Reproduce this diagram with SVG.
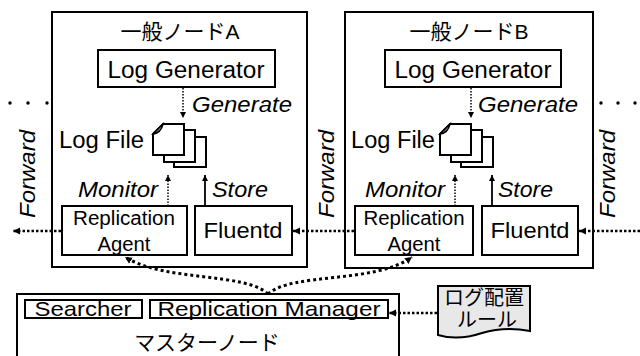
<svg xmlns="http://www.w3.org/2000/svg" width="640" height="356" viewBox="0 0 640 356">
<style>
text{font-family:"Liberation Sans","Noto Sans CJK JP",Arial,sans-serif;fill:#000}
.box{fill:#fff;stroke:#000;stroke-width:2}
.node{fill:none;stroke:#000;stroke-width:2}
.ja{font-size:21px}
.it{font-style:italic;font-size:22px}
.lbl{font-size:22px;text-anchor:middle}
.sm{font-size:20px;text-anchor:middle}
.dot{fill:none;stroke:#000;stroke-width:2.5;stroke-dasharray:2.5 2}
.thin{fill:none;stroke:#000;stroke-width:1.5;stroke-dasharray:1.5 1.5}
.curve{fill:none;stroke:#000;stroke-width:3;stroke-dasharray:3 3}
.solid{fill:none;stroke:#000;stroke-width:1.8}
.page{fill:#fff;stroke:#000;stroke-width:2;stroke-linejoin:miter}
</style>
<defs>
<marker id="ah" markerUnits="userSpaceOnUse" markerWidth="8" markerHeight="8" refX="7" refY="4" orient="auto">
<path d="M0,0.5 L7,4 L0,7.5 Z" fill="#000"/>
</marker>
<marker id="ahs" markerUnits="userSpaceOnUse" markerWidth="7" markerHeight="7" refX="6" refY="3" orient="auto">
<path d="M0,0 L6,3 L0,6 Z" fill="#000"/>
</marker>
<g id="logicon">
<rect class="page" x="174" y="137" width="32" height="30"/>
<rect class="page" x="164" y="130" width="31" height="32"/>
<path class="page" d="M163,124 H184 V155 H153 V134 Z"/>
<path d="M153,134 L163,124 Q161,133 153,134 Z" fill="#aaa" stroke="#000" stroke-width="1.5"/>
</g>
</defs>

<g id="nodeA">
<rect class="node" x="52" y="12" width="255" height="255"/>
<text class="ja" x="180" y="39" text-anchor="middle">一般ノードA</text>
</g>
<g id="logGenA">
<rect class="box" x="98" y="50" width="177" height="37"/>
<text x="186" y="78" font-size="23" text-anchor="middle" textLength="157" lengthAdjust="spacingAndGlyphs">Log Generator</text>
</g>
<g id="logFileA">
<text x="59" y="148" font-size="23" textLength="85" lengthAdjust="spacingAndGlyphs">Log File</text>
<use href="#logicon"/>
</g>
<g id="replAgentA">
<rect class="box" x="62" y="206" width="125" height="49"/>
<text class="sm" x="124" y="225" textLength="102" lengthAdjust="spacingAndGlyphs">Replication</text>
<text class="sm" x="124" y="251" textLength="53" lengthAdjust="spacingAndGlyphs">Agent</text>
</g>
<g id="fluentdA">
<rect class="box" x="195" y="206" width="97" height="49"/>
<text class="lbl" x="243" y="238" textLength="79" lengthAdjust="spacingAndGlyphs">Fluentd</text>
</g>

<g id="nodeB">
<rect class="node" x="345" y="12" width="248" height="256"/>
<text class="ja" x="469" y="39" text-anchor="middle">一般ノードB</text>
</g>
<g id="logGenB">
<rect class="box" x="385" y="50" width="176" height="37"/>
<text x="473" y="78" font-size="23" text-anchor="middle" textLength="157" lengthAdjust="spacingAndGlyphs">Log Generator</text>
</g>
<g id="logFileB">
<text x="351" y="148" font-size="23" textLength="84" lengthAdjust="spacingAndGlyphs">Log File</text>
<use href="#logicon" transform="translate(287,0)"/>
</g>
<g id="replAgentB">
<rect class="box" x="355" y="206" width="118" height="49"/>
<text class="sm" x="414" y="225" textLength="101" lengthAdjust="spacingAndGlyphs">Replication</text>
<text class="sm" x="414" y="251" textLength="53" lengthAdjust="spacingAndGlyphs">Agent</text>
</g>
<g id="fluentdB">
<rect class="box" x="482" y="206" width="96" height="49"/>
<text class="lbl" x="530" y="238" textLength="79" lengthAdjust="spacingAndGlyphs">Fluentd</text>
</g>

<g id="master">
<rect class="node" x="17" y="294" width="382" height="80"/>
<text class="ja" x="207" y="350" text-anchor="middle">マスターノード</text>
</g>
<g id="searcher">
<rect class="box" x="25" y="300" width="117" height="18"/>
<text x="83" y="315.5" font-size="21" text-anchor="middle" textLength="97" lengthAdjust="spacingAndGlyphs">Searcher</text>
</g>
<g id="replManager">
<rect class="box" x="150" y="300" width="238" height="18"/>
<text x="269" y="315.5" font-size="21" text-anchor="middle" textLength="223" lengthAdjust="spacingAndGlyphs">Replication  Manager</text>
</g>
<g id="rule">
<path d="M438,286 H530 V331 Q505,326 482,333 Q458,341 438,335 Z" fill="#e8e8e8" stroke="#000" stroke-width="2"/>
<text x="484" y="305" font-size="20" text-anchor="middle">ログ配置</text>
<text x="487" y="327" font-size="20" text-anchor="middle">ルール</text>
</g>

<g id="connectors">
<line class="thin" x1="183" y1="88" x2="183" y2="118" marker-end="url(#ahs)"/>
<line class="thin" x1="471" y1="88" x2="471" y2="118" marker-end="url(#ahs)"/>
<line class="thin" x1="168" y1="206" x2="168" y2="175" marker-end="url(#ahs)"/>
<line class="thin" x1="455" y1="206" x2="455" y2="175" marker-end="url(#ahs)"/>
<line class="solid" x1="205" y1="206" x2="205" y2="175" marker-end="url(#ahs)"/>
<line class="solid" x1="492" y1="206" x2="492" y2="175" marker-end="url(#ahs)"/>
<line class="dot" x1="61" y1="231" x2="13" y2="231" marker-end="url(#ah)"/>
<line class="dot" x1="354" y1="231" x2="293" y2="231" marker-end="url(#ah)"/>
<line class="dot" x1="640" y1="231" x2="579" y2="231" marker-end="url(#ah)"/>
<line class="dot" x1="437" y1="313" x2="389" y2="313" marker-end="url(#ah)"/>
<path class="curve" d="M268,294 C245,272 165,282 125,257" marker-end="url(#ah)"/>
<path class="curve" d="M268,294 C292,272 375,284 412,257" marker-end="url(#ah)"/>
</g>

<g id="labels">
<text class="it" x="192" y="112" textLength="100" lengthAdjust="spacingAndGlyphs">Generate</text>
<text class="it" x="478" y="112" textLength="100" lengthAdjust="spacingAndGlyphs">Generate</text>
<text class="it" x="78" y="197" textLength="80" lengthAdjust="spacingAndGlyphs">Monitor</text>
<text class="it" x="212" y="197" textLength="56" lengthAdjust="spacingAndGlyphs">Store</text>
<text class="it" x="365" y="197" textLength="80" lengthAdjust="spacingAndGlyphs">Monitor</text>
<text class="it" x="498" y="197" textLength="55" lengthAdjust="spacingAndGlyphs">Store</text>
<text class="it" text-anchor="middle" transform="translate(35,174) rotate(-90)" textLength="88" lengthAdjust="spacingAndGlyphs">Forward</text>
<text class="it" text-anchor="middle" transform="translate(334,174) rotate(-90)" textLength="88" lengthAdjust="spacingAndGlyphs">Forward</text>
<text class="it" text-anchor="middle" transform="translate(615,174) rotate(-90)" textLength="88" lengthAdjust="spacingAndGlyphs">Forward</text>
</g>

<g id="ellipsis" fill="#000">
<circle cx="10" cy="103" r="1.7"/>
<circle cx="28" cy="103" r="1.7"/>
<circle cx="47" cy="103" r="1.7"/>
<circle cx="601" cy="103" r="1.7"/>
<circle cx="618" cy="103" r="1.7"/>
<circle cx="635" cy="103" r="1.7"/>
</g>
</svg>
